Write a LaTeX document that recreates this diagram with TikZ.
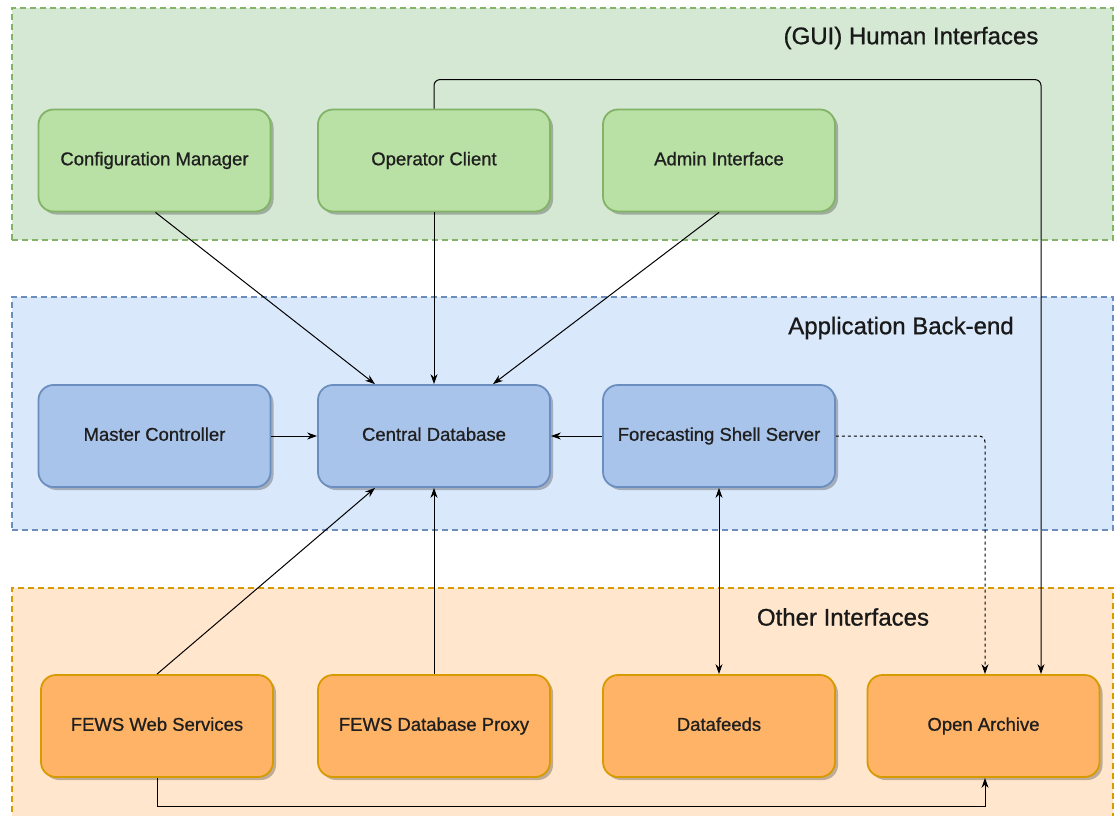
\documentclass[tikz,border=0pt]{standalone}
\usepackage{fontspec}
\setmainfont{Liberation Sans}
\newfontfamily\medfont[FakeBold=0.9]{Liberation Sans}
\usetikzlibrary{arrows.meta,shadows,calc}
\definecolor{gcf}{HTML}{D5E8D4}\definecolor{gcs}{HTML}{82B366}\definecolor{gnf}{HTML}{B9E0A5}
\definecolor{bcf}{HTML}{DAE8FC}\definecolor{bcs}{HTML}{6C8EBF}\definecolor{bnf}{HTML}{A9C4EB}
\definecolor{ocf}{HTML}{FFE6CC}\definecolor{ocs}{HTML}{D79B00}\definecolor{onf}{HTML}{FFB366}
\tikzset{
  container/.style={draw, line width=1.6pt, dash pattern=on 6pt off 4pt, minimum width=1101pt, inner sep=0pt},
  box/.style={rounded corners=15pt, line width=1.8pt, minimum width=232pt, minimum height=102pt, inner sep=0pt,
     font=\medfont\fontsize{18.5}{20}\selectfont, text=black!88, text height=13.5pt, text depth=4pt,
     drop shadow={shadow xshift=3pt, shadow yshift=-3pt, fill=black, opacity=0.25}},
  gbox/.style={box, draw=gcs, fill=gnf},
  bbox/.style={box, draw=bcs, fill=bnf},
  obox/.style={box, draw=ocs, fill=onf},
  ctitle/.style={font=\medfont\fontsize{24}{26}\selectfont, text=black!90, inner sep=0pt},
  conn/.style={draw=black, line width=1pt, -{Stealth[length=10pt,width=7pt]}},
}
\begin{document}
\begin{tikzpicture}[x=1pt,y=-1pt]
\useasboundingbox (0,0) rectangle (1117,816);
\begin{scope}
\clip (0,0) rectangle (1117,816);
\node[container, draw=gcs, fill=gcf, minimum height=232pt] (gui) at (562.5,124) {};
\node[container, draw=bcs, fill=bcf, minimum height=233pt] (back) at (562.5,413.5) {};
\node[container, draw=ocs, fill=ocf, minimum height=240pt] (other) at (562.5,708) {};
\end{scope}
\node[ctitle] (t1) at (911,38) {(GUI) Human Interfaces};
\node[ctitle] (t2) at (901,328) {Application Back-end};
\node[ctitle] (t3) at (843,617) {Other Interfaces};

\node[gbox] (cm) at (154.5,160.5) {Configuration Manager};
\node[gbox] (oc) at (434,160.5) {Operator Client};
\node[gbox] (ai) at (719,160.5) {Admin Interface};

\node[bbox] (mc) at (154.5,436) {Master Controller};
\node[bbox] (cdb) at (434,436) {Central Database};
\node[bbox] (fss) at (719,436) {Forecasting Shell Server};

\node[obox] (ws) at (157,726) {FEWS Web Services};
\node[obox] (proxy) at (434,726) {FEWS Database Proxy};
\node[obox] (df) at (719,726) {Datafeeds};
\node[obox] (oa) at (983.5,726) {Open Archive};

% connectors
\draw[conn] ($(cm.south)+(1,0)$) -- ($(cdb.north)+(-59,0)$);
\draw[conn] (oc.south) -- (cdb.north);
\draw[conn] (ai.south) -- ($(cdb.north)+(59,0)$);
\draw[conn, rounded corners=6pt] (oc.north) -- ($(oc.north)+(0,-29)$) -| ($(oa.north)+(57.5,0)$);
\draw[conn] (mc.east) -- (cdb.west);
\draw[conn] (fss.west) -- (cdb.east);
\draw[conn, dash pattern=on 3pt off 3pt, rounded corners=6pt] (fss.east) -| ($(oa.north)+(1.5,0)$);
\draw[conn, {Stealth[length=10pt,width=7pt]}-{Stealth[length=10pt,width=7pt]}] (fss.south) -- (df.north);
\draw[conn] (ws.north) -- ($(cdb.south)+(-59,0)$);
\draw[conn] (proxy.north) -- (cdb.south);
\draw[conn] (ws.south) -- ($(ws.south)+(0,29)$) -| ($(oa.south)+(1.5,0)$);
\end{tikzpicture}
\end{document}
